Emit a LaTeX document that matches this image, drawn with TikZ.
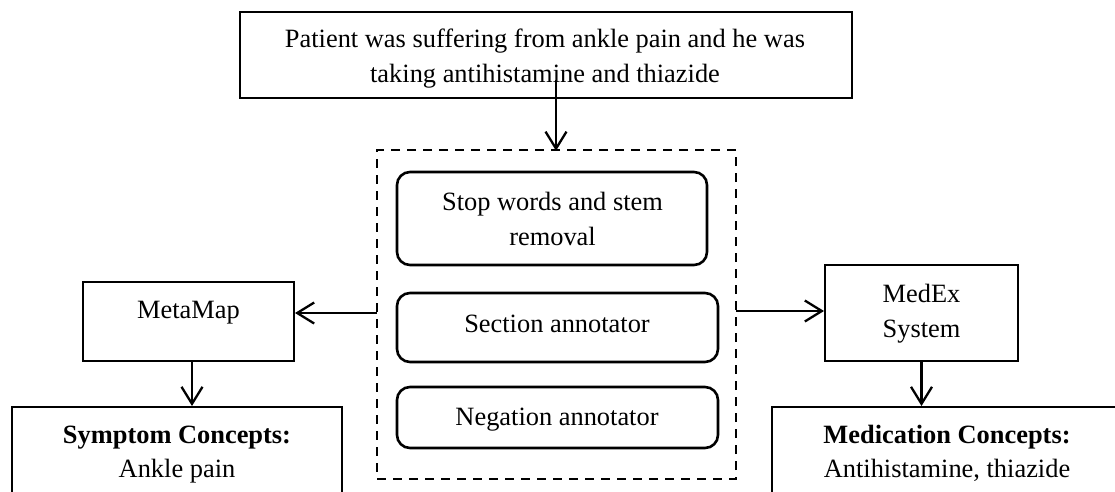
\documentclass[tikz,border=0pt]{standalone}
\usepackage{fontspec}
\setmainfont{Liberation Serif}
\usetikzlibrary{arrows.meta}
\tikzset{
  txt/.style={font=\fontsize{26.4}{35}\selectfont, inner sep=0pt, anchor=base},
  thinbox/.style={draw, line width=2pt, inner sep=0pt},
  topbox/.style={draw, line width=2.8pt, inner sep=0pt},
  rbox/.style={draw, rounded corners=13pt, line width=2.6pt, inner sep=0pt},
  dbox/.style={draw, line width=2.4pt, dash pattern=on 9pt off 7pt, inner sep=0pt},
  arr/.style={line width=2.3pt, -{Straight Barb[length=17pt,width=21pt,line width=2.3pt]}}
}
\begin{document}
\begin{tikzpicture}[x=1pt,y=-1pt]
\useasboundingbox (0,0) rectangle (1115,491);
\clip (0,0) rectangle (1115,491);
% top box
\node[topbox, minimum width=612, minimum height=86] (top) at (546,55) {};
\node[txt] (top1) at (545,47) {Patient was suffering from ankle pain and he was};
\node[txt] (top2) at (545,82) {taking antihistamine and thiazide};
% dashed container
\node[dbox, minimum width=359, minimum height=329] (dash) at (556.5,314.5) {};
% inner rounded boxes
\node[rbox, minimum width=310, minimum height=93] (stop) at (552,218.5) {};
\node[txt] (stop1) at (552.5,210) {Stop words and stem};
\node[txt] (stop2) at (552.5,245) {removal};
\node[rbox, minimum width=321, minimum height=69] (sect) at (557.5,327.5) {};
\node[txt] (sectT) at (557,332) {Section annotator};
\node[rbox, minimum width=321, minimum height=61] (neg) at (557.5,417.5) {};
\node[txt] (negT) at (557,425) {Negation annotator};
% MetaMap
\node[thinbox, minimum width=211, minimum height=79] (meta) at (188.5,321.5) {};
\node[txt] (metaT) at (188.5,318) {MetaMap};
% MedEx
\node[thinbox, minimum width=193, minimum height=96] (medex) at (921.5,313) {};
\node[txt] (medex1) at (921.5,302) {MedEx};
\node[txt] (medex2) at (921.5,337) {System};
% result boxes
\node[thinbox, minimum width=330, minimum height=113] (symp) at (177,463.5) {};
\node[txt] (symp1) at (177,443) {\bfseries Symptom Concepts:};
\node[txt] (symp2) at (177,477) {Ankle pain};
\node[thinbox, minimum width=353, minimum height=113] (medc) at (948.5,463.5) {};
\node[txt] (medc1) at (947,443) {\bfseries Medication Concepts:};
\node[txt] (medc2) at (947,477) {Antihistamine, thiazide};
% connectors
\coordinate (tstart) at (556,80);
\draw[arr] (tstart) -- ([yshift=-2pt]tstart |- dash.north);
\coordinate (lstart) at (377,313);
\draw[arr] (lstart) -- (meta.east |- lstart);
\coordinate (rstart) at (736,311);
\draw[arr] (rstart) -- (medex.west |- rstart);
\draw[arr] ([xshift=3.5pt]meta.south) -- ([xshift=3.5pt]meta.south |- symp.north);
\draw[arr] (medex.south) -- (medex.south |- medc.north);
\end{tikzpicture}
\end{document}
